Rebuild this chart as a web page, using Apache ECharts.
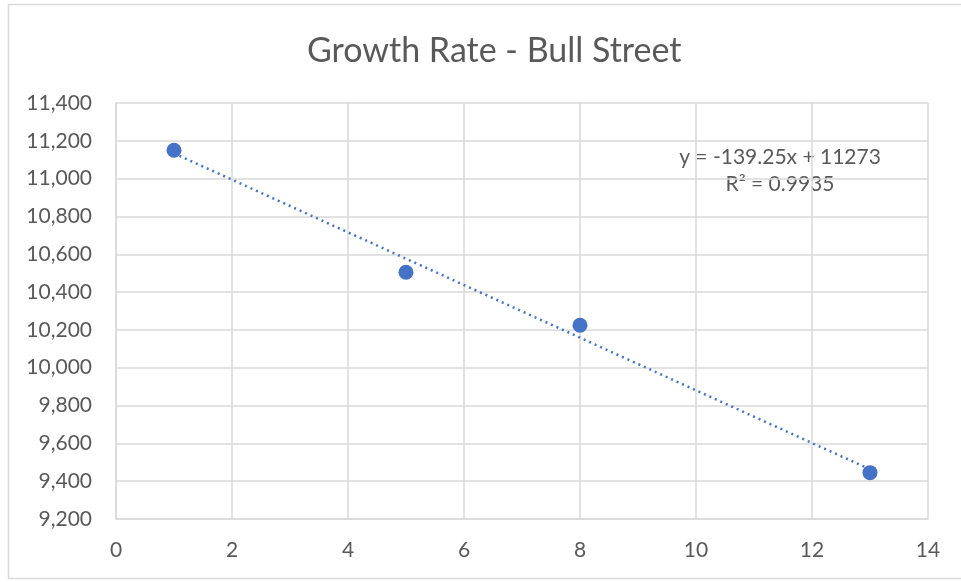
<!DOCTYPE html>
<html><head><meta charset="utf-8">
<script src="https://cdn.jsdelivr.net/npm/echarts@6/dist/echarts.min.js"></script>
<style>html,body{margin:0;padding:0;background:#fff}#c{width:961px;height:582px}</style>
</head><body><div id="c"></div>
<script>
var xValues = [1, 5, 8, 13];
var yValues = [11150, 10505, 10225, 9445];
var trendX = [1, 13];
var trendY = [11133.75, 9462.75];
var titleText = 'Growth Rate - Bull Street';
var equationText = 'y = -139.25x + 11273';
var r2Text = 'R² = 0.9935';

var FONT = 'Lato, "Open Sans", sans-serif';
var chart = echarts.init(document.getElementById('c'), null, {renderer: 'canvas'});
chart.setOption({
  animation: false,
  backgroundColor: '#fff',
  title: {text: titleText, left: 302, top: 29,
    textStyle: {fontFamily: FONT, fontSize: 34, fontWeight: 'normal', color: '#595959'}},
  grid: {left: 116, top: 103, right: 33, bottom: 63, containLabel: false},
  xAxis: {type: 'value', min: 0, max: 14, interval: 2,
    axisLine: {show: true, lineStyle: {color: '#d9d9d9', width: 1.5}},
    axisTick: {show: false},
    splitLine: {show: true, lineStyle: {color: '#d9d9d9', width: 1.5}},
    axisLabel: {color: '#595959', fontFamily: FONT, fontSize: 21, margin: 21}},
  yAxis: {type: 'value', min: 9200, max: 11400, interval: 200,
    axisLine: {show: true, lineStyle: {color: '#d9d9d9', width: 1.5}},
    axisTick: {show: false},
    splitLine: {show: true, lineStyle: {color: '#d9d9d9', width: 1.5}},
    axisLabel: {color: '#595959', fontFamily: FONT, fontSize: 21, margin: 24,
      formatter: function (v) { return v.toLocaleString('en-US'); }}},
  series: [
    {type: 'line', data: trendX.map(function (x, i) { return [x, trendY[i]]; }),
      symbol: 'none', lineStyle: {color: '#4472C4', width: 2.5, type: [2, 4]}, z: 2},
    {type: 'scatter', data: xValues.map(function (x, i) { return [x, yValues[i]]; }),
      symbol: 'circle', symbolSize: 15, itemStyle: {color: '#4472C4', opacity: 1}, z: 3}
  ],
  graphic: [
    {type: 'rect', shape: {x: 8.5, y: 4.5, width: 960, height: 574},
      style: {fill: 'none', stroke: '#d9d9d9', lineWidth: 1.5}, silent: true},
    {type: 'text', x: 780, y: 157, style: {text: equationText, fontFamily: FONT, fontSize: 21,
      fill: '#595959', align: 'center', verticalAlign: 'middle'}},
    {type: 'text', x: 780, y: 184, style: {text: r2Text, fontFamily: FONT, fontSize: 21,
      fill: '#595959', align: 'center', verticalAlign: 'middle'}}
  ]
});
</script></body></html>
